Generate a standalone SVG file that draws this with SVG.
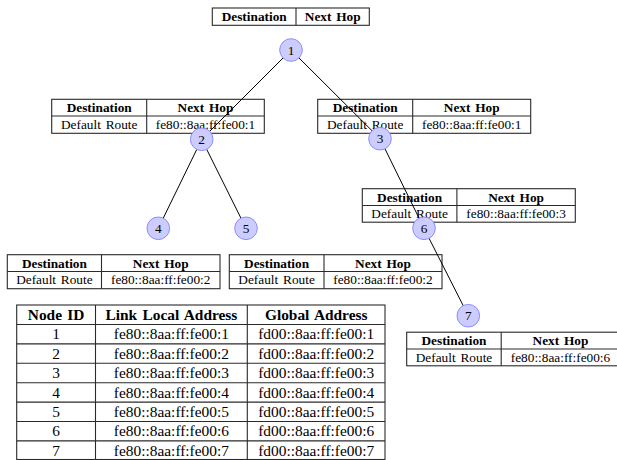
<svg xmlns="http://www.w3.org/2000/svg" width="617" height="460" viewBox="0 0 617 460" font-family="'Liberation Serif', 'Times New Roman', Times, 'DejaVu Serif', serif">
<style>
  text { font-family: 'Liberation Serif', 'Times New Roman', Times, 'DejaVu Serif', serif; }
  .tb { fill: none; stroke: #2a2a2a; stroke-width: 1.1; }
  .th { font-size: 13.3px; font-weight: bold; fill: #000; text-anchor: middle; word-spacing: 1.5px; }
  .td { font-size: 13.3px; fill: #000; text-anchor: middle; word-spacing: 1.5px; }
  .bh { font-size: 15.4px; font-weight: bold; fill: #000; text-anchor: middle; word-spacing: 1.5px; }
  .bd { font-size: 15.4px; fill: #000; text-anchor: middle; }
  .edge { stroke: #000; stroke-width: 1; fill: none; }
  .node circle { fill: #ccccff; stroke: #8c8cff; stroke-width: 1; }
  .node text { font-size: 13.3px; fill: #000; text-anchor: middle; }
</style>
<rect width="617" height="460" fill="#fff"/>

<!-- routing tables -->
<g id="table-node1">
  <rect class="tb" x="212.3" y="8" width="157" height="17.3"/>
  <line class="tb" x1="296" y1="8" x2="296" y2="25.3"/>
  <text class="th" x="254.2" y="21">Destination</text>
  <text class="th" x="332.7" y="21">Next Hop</text>
</g>
<g id="table-node2">
  <rect class="tb" x="51.7" y="99.3" width="212.6" height="34"/>
  <line class="tb" x1="51.7" y1="116" x2="264.3" y2="116"/>
  <line class="tb" x1="146.7" y1="99.3" x2="146.7" y2="133.3"/>
  <text class="th" x="99.2" y="112.2">Destination</text>
  <text class="th" x="205.5" y="112.2">Next Hop</text>
  <text class="td" x="99.2" y="129">Default Route</text>
  <text class="td" x="205.5" y="129">fe80::8aa:ff:fe00:1</text>
</g>
<g id="table-node3">
  <rect class="tb" x="317.7" y="99.3" width="213" height="34"/>
  <line class="tb" x1="317.7" y1="116" x2="530.7" y2="116"/>
  <line class="tb" x1="412.7" y1="99.3" x2="412.7" y2="133.3"/>
  <text class="th" x="365.2" y="112.2">Destination</text>
  <text class="th" x="471.7" y="112.2">Next Hop</text>
  <text class="td" x="365.2" y="129">Default Route</text>
  <text class="td" x="471.7" y="129">fe80::8aa:ff:fe00:1</text>
</g>
<g id="table-node4">
  <rect class="tb" x="7.3" y="254.7" width="212.7" height="34"/>
  <line class="tb" x1="7.3" y1="271.5" x2="220" y2="271.5"/>
  <line class="tb" x1="101.5" y1="254.7" x2="101.5" y2="288.7"/>
  <text class="th" x="54.4" y="267.6">Destination</text>
  <text class="th" x="160.7" y="267.6">Next Hop</text>
  <text class="td" x="54.4" y="284.4">Default Route</text>
  <text class="td" x="160.7" y="284.4">fe80::8aa:ff:fe00:2</text>
</g>
<g id="table-node5">
  <rect class="tb" x="229.3" y="254.7" width="212.7" height="34"/>
  <line class="tb" x1="229.3" y1="271.5" x2="442" y2="271.5"/>
  <line class="tb" x1="324" y1="254.7" x2="324" y2="288.7"/>
  <text class="th" x="276.6" y="267.6">Destination</text>
  <text class="th" x="383" y="267.6">Next Hop</text>
  <text class="td" x="276.6" y="284.4">Default Route</text>
  <text class="td" x="383" y="284.4">fe80::8aa:ff:fe00:2</text>
</g>
<g id="table-node6">
  <rect class="tb" x="362.3" y="188.7" width="213" height="33.5"/>
  <line class="tb" x1="362.3" y1="205.5" x2="575.3" y2="205.5"/>
  <line class="tb" x1="456.9" y1="188.7" x2="456.9" y2="222.2"/>
  <text class="th" x="409.6" y="201.6">Destination</text>
  <text class="th" x="516.1" y="201.6">Next Hop</text>
  <text class="td" x="409.6" y="218.2">Default Route</text>
  <text class="td" x="516.1" y="218.2">fe80::8aa:ff:fe00:3</text>
</g>
<g id="table-node7">
  <rect class="tb" x="406.7" y="332.2" width="213" height="33.6"/>
  <line class="tb" x1="406.7" y1="349" x2="619.7" y2="349"/>
  <line class="tb" x1="501.2" y1="332.2" x2="501.2" y2="365.8"/>
  <text class="th" x="454" y="345.1">Destination</text>
  <text class="th" x="560.5" y="345.1">Next Hop</text>
  <text class="td" x="454" y="361.8">Default Route</text>
  <text class="td" x="560.5" y="361.8">fe80::8aa:ff:fe00:6</text>
</g>

<!-- address table -->
<g id="address-table">
  <rect class="tb" x="16.7" y="305" width="368.3" height="154.5"/>
  <line class="tb" x1="95.5" y1="305" x2="95.5" y2="460"/>
  <line class="tb" x1="247.3" y1="305" x2="247.3" y2="460"/>
  <line class="tb" x1="16.7" y1="324.5" x2="385" y2="324.5"/>
  <line class="tb" x1="16.7" y1="343.9" x2="385" y2="343.9"/>
  <line class="tb" x1="16.7" y1="363.3" x2="385" y2="363.3"/>
  <line class="tb" x1="16.7" y1="382.7" x2="385" y2="382.7"/>
  <line class="tb" x1="16.7" y1="402.1" x2="385" y2="402.1"/>
  <line class="tb" x1="16.7" y1="421.5" x2="385" y2="421.5"/>
  <line class="tb" x1="16.7" y1="440.9" x2="385" y2="440.9"/>
  <text class="bh" x="56.1" y="320">Node ID</text>
  <text class="bh" x="171.4" y="320">Link Local Address</text>
  <text class="bh" x="316.2" y="320">Global Address</text>
  <text class="bd" x="56.1" y="339.3">1</text>
  <text class="bd" x="171.4" y="339.3">fe80::8aa:ff:fe00:1</text>
  <text class="bd" x="316.2" y="339.3">fd00::8aa:ff:fe00:1</text>
  <text class="bd" x="56.1" y="358.7">2</text>
  <text class="bd" x="171.4" y="358.7">fe80::8aa:ff:fe00:2</text>
  <text class="bd" x="316.2" y="358.7">fd00::8aa:ff:fe00:2</text>
  <text class="bd" x="56.1" y="378.1">3</text>
  <text class="bd" x="171.4" y="378.1">fe80::8aa:ff:fe00:3</text>
  <text class="bd" x="316.2" y="378.1">fd00::8aa:ff:fe00:3</text>
  <text class="bd" x="56.1" y="397.5">4</text>
  <text class="bd" x="171.4" y="397.5">fe80::8aa:ff:fe00:4</text>
  <text class="bd" x="316.2" y="397.5">fd00::8aa:ff:fe00:4</text>
  <text class="bd" x="56.1" y="416.9">5</text>
  <text class="bd" x="171.4" y="416.9">fe80::8aa:ff:fe00:5</text>
  <text class="bd" x="316.2" y="416.9">fd00::8aa:ff:fe00:5</text>
  <text class="bd" x="56.1" y="436.3">6</text>
  <text class="bd" x="171.4" y="436.3">fe80::8aa:ff:fe00:6</text>
  <text class="bd" x="316.2" y="436.3">fd00::8aa:ff:fe00:6</text>
  <text class="bd" x="56.1" y="455.7">7</text>
  <text class="bd" x="171.4" y="455.7">fe80::8aa:ff:fe00:7</text>
  <text class="bd" x="316.2" y="455.7">fd00::8aa:ff:fe00:7</text>
</g>

<!-- connectors -->
<g id="connectors">
  <line class="edge" x1="291" y1="50" x2="201.7" y2="139.3"/>
  <line class="edge" x1="291" y1="50" x2="380" y2="138.7"/>
  <line class="edge" x1="201.7" y1="139.3" x2="158.3" y2="228.3"/>
  <line class="edge" x1="201.7" y1="139.3" x2="246" y2="228.3"/>
  <line class="edge" x1="380" y1="138.7" x2="424" y2="228.3"/>
  <line class="edge" x1="424" y1="228.3" x2="468.3" y2="315.7"/>
</g>

<!-- nodes -->
<g id="node-1" class="node"><circle cx="291" cy="50" r="11.3"/><text x="291" y="54.6">1</text></g>
<g id="node-2" class="node"><circle cx="201.7" cy="139.3" r="11.3"/><text x="201.7" y="143.9">2</text></g>
<g id="node-3" class="node"><circle cx="380" cy="138.7" r="11.3"/><text x="380" y="143.3">3</text></g>
<g id="node-4" class="node"><circle cx="158.3" cy="228.3" r="11.3"/><text x="158.3" y="232.9">4</text></g>
<g id="node-5" class="node"><circle cx="246" cy="228.3" r="11.3"/><text x="246" y="232.9">5</text></g>
<g id="node-6" class="node"><circle cx="424" cy="228.3" r="11.3"/><text x="424" y="232.9">6</text></g>
<g id="node-7" class="node"><circle cx="468.3" cy="315.7" r="11.3"/><text x="468.3" y="320.3">7</text></g>
</svg>
